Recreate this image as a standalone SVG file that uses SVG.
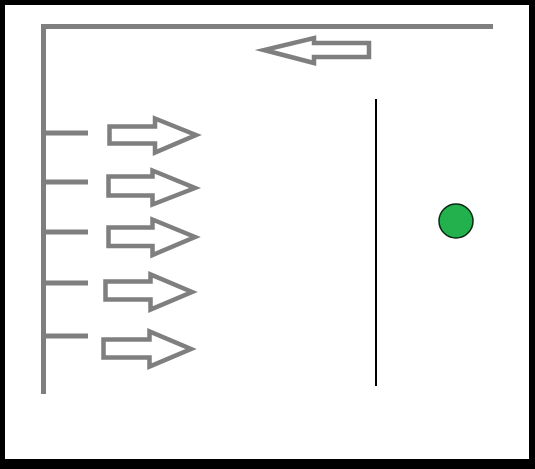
<svg xmlns="http://www.w3.org/2000/svg" width="535" height="469" viewBox="0 0 535 469">
<style>
.ln{stroke:#7f7f7f;stroke-width:5;fill:none;stroke-linecap:butt}
.ar{stroke:#7f7f7f;stroke-width:4.5;fill:#fff;stroke-linejoin:miter;stroke-miterlimit:10}
</style>
<rect x="0" y="0" width="535" height="469" fill="#000"/>
<rect x="5" y="5" width="524" height="454" fill="#fff"/>
<g id="connectors">
<path class="ln" d="M43.5 24 V394 M41 26.5 H493"/>
<path class="ln" d="M43.5 133 H88 M43.5 182 H88 M43.5 232 H88 M43.5 283 H88 M43.5 336 H88"/>
</g>
<g id="arrow-top"><polygon class="ar" points="369,43 314,43 314,38 264,50 314,63 314,57 369,57"/></g>
<g id="arrow-1"><polygon class="ar" points="109.5,126.5 155,126.5 155,118.5 196,135 155,152.5 155,143.5 109.5,143.5"/></g>
<g id="arrow-2"><polygon class="ar" points="108.5,176.5 152.5,176.5 152.5,170.5 195,188 152.5,204.5 152.5,195.5 108.5,195.5"/></g>
<g id="arrow-3"><polygon class="ar" points="108.5,227.5 152.5,227.5 152.5,219.5 195,237 152.5,255 152.5,246 108.5,246"/></g>
<g id="arrow-4"><polygon class="ar" points="105.5,281.5 150.5,281.5 150.5,274.5 192,292 150.5,309.5 150.5,299.5 105.5,299.5"/></g>
<g id="arrow-5"><polygon class="ar" points="103.5,339.5 149.5,339.5 149.5,331.5 191,349 149.5,366.5 149.5,357.5 103.5,357.5"/></g>
<g id="divider"><line x1="376" y1="99" x2="376" y2="386" stroke="#000" stroke-width="2"/></g>
<g id="dot"><circle cx="456" cy="221" r="17" fill="#22b14c" stroke="#0a2a12" stroke-width="1.5"/></g>
</svg>
